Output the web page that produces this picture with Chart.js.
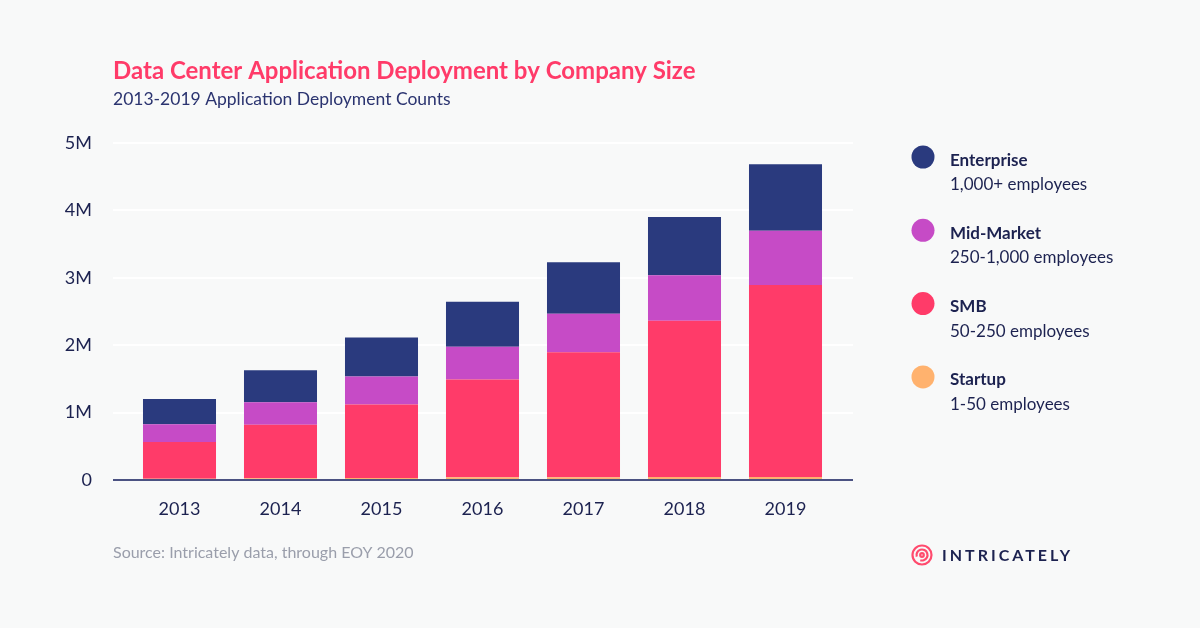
<!DOCTYPE html>
<html>
<head>
<meta charset="utf-8">
<script src="https://cdn.jsdelivr.net/npm/chart.js@4"></script>
<style>
  html, body { margin: 0; padding: 0; background: #f8f9f9; }
  #wrap { width: 1200px; height: 628px; position: relative; }
</style>
</head>
<body>
<div id="wrap"><canvas id="deployChart"></canvas></div>
<script>
// Data
const years = ['2013', '2014', '2015', '2016', '2017', '2018', '2019'];
const startup = [20000, 25000, 30000, 40000, 40000, 45000, 45000];
const smb = [543000, 796000, 1089000, 1451000, 1855000, 2318000, 2849000];
const midMarket = [263000, 332000, 417000, 485000, 572000, 676000, 804000];
const enterprise = [376000, 477000, 580000, 670000, 765000, 863000, 987000];
const yTicks = [0, 1000000, 2000000, 3000000, 4000000, 5000000];

const legendItems = [
    { name: 'Enterprise', sub: '1,000+ employees', color: '#2a3a7e' },
    { name: 'Mid-Market', sub: '250-1,000 employees', color: '#c64bc6' },
    { name: 'SMB', sub: '50-250 employees', color: '#ff3b69' },
    { name: 'Startup', sub: '1-50 employees', color: '#ffb26e' }
];

const FONT = 'Lato, "Noto Sans", sans-serif';
const NAVY = '#1c2250';

// gridlines and baseline a bit wider than the bar area
const gridPlugin = {
    id: 'gridPlugin',
    beforeDatasetsDraw(chart) {
        const { ctx, chartArea, scales } = chart;
        ctx.save();
        ctx.strokeStyle = '#ffffff';
        ctx.lineWidth = 2;
        yTicks.forEach(v => {
            if (v === 0) return;
            const y = Math.round(scales.y.getPixelForValue(v));
            ctx.beginPath();
            ctx.moveTo(chartArea.left - 16, y);
            ctx.lineTo(chartArea.right + 17, y);
            ctx.stroke();
        });
        ctx.restore();
    },
    afterDatasetsDraw(chart) {
        const { ctx, chartArea, scales } = chart;
        const y = scales.y.getPixelForValue(0);
        ctx.save();
        ctx.strokeStyle = '#4b5282';
        ctx.lineWidth = 2;
        ctx.beginPath();
        ctx.moveTo(chartArea.left - 16, y);
        ctx.lineTo(chartArea.right + 17, y);
        ctx.stroke();
        ctx.restore();
    }
};

// titles, legend, footer, logo
const decorPlugin = {
    id: 'decorPlugin',
    afterDraw(chart) {
        const ctx = chart.ctx;
        ctx.save();
        ctx.textBaseline = 'alphabetic';
        ctx.textAlign = 'left';

        ctx.fillStyle = '#ff3b69';
        ctx.font = 'bold 24px ' + FONT;
        ctx.fillText('Data Center Application Deployment by Company Size', 113, 79);

        ctx.fillStyle = '#2b3470';
        ctx.font = '17.5px ' + FONT;
        ctx.fillText('2013-2019 Application Deployment Counts', 113, 105);

        legendItems.forEach((item, i) => {
            const cy = 157 + i * 73.3;
            ctx.fillStyle = item.color;
            ctx.beginPath();
            ctx.arc(923, cy, 11.5, 0, Math.PI * 2);
            ctx.fill();
            ctx.fillStyle = NAVY;
            ctx.font = 'bold 17px ' + FONT;
            ctx.fillText(item.name, 950, cy + 8.5);
            ctx.font = '17px ' + FONT;
            ctx.fillText(item.sub, 950, cy + 33);
        });

        ctx.fillStyle = '#9a9eab';
        ctx.font = '16px ' + FONT;
        ctx.fillText('Source: Intricately data, through EOY 2020', 113, 558);

        // logo mark
        ctx.strokeStyle = '#ff4b6e';
        ctx.lineWidth = 2.2;
        ctx.beginPath();
        ctx.arc(922, 555, 9.5, 0, Math.PI * 2);
        ctx.stroke();
        ctx.beginPath();
        ctx.arc(922, 555, 5.5, Math.PI * 0.9, Math.PI * 2.6);
        ctx.stroke();
        ctx.beginPath();
        ctx.arc(922, 555, 1.8, 0, Math.PI * 2);
        ctx.stroke();

        ctx.fillStyle = NAVY;
        ctx.font = 'bold 16px ' + FONT;
        ctx.letterSpacing = '3px';
        ctx.fillText('INTRICATELY', 942, 561);
        ctx.restore();
    }
};

const deployChart = new Chart(document.getElementById('deployChart'), {
    type: 'bar',
    data: {
        labels: years,
        datasets: [
            { label: 'Startup', data: startup, backgroundColor: '#ffb26e' },
            { label: 'SMB', data: smb, backgroundColor: '#ff3b69' },
            { label: 'Mid-Market', data: midMarket, backgroundColor: '#c64bc6' },
            { label: 'Enterprise', data: enterprise, backgroundColor: '#2a3a7e' }
        ]
    },
    options: {
        responsive: true,
        maintainAspectRatio: false,
        animation: false,
        devicePixelRatio: 1,
        layout: { padding: { top: 143, right: 364, bottom: 98, left: 0 } },
        datasets: {
            bar: { categoryPercentage: 1, barPercentage: 0.723, borderWidth: 0 }
        },
        plugins: {
            legend: { display: false },
            tooltip: { enabled: false }
        },
        scales: {
            x: {
                stacked: true,
                grid: { display: false, drawTicks: false },
                border: { display: false },
                ticks: { color: NAVY, font: { family: FONT, size: 18 }, padding: 18 },
                afterFit(scale) { scale.height = 50; }
            },
            y: {
                stacked: true,
                min: 0,
                max: 5000000,
                afterBuildTicks(scale) { scale.ticks = yTicks.map(v => ({ value: v })); },
                grid: { display: false, drawTicks: false },
                border: { display: false },
                ticks: {
                    color: NAVY,
                    font: { family: FONT, size: 18 },
                    padding: 37,
                    callback: v => v === 0 ? '0' : (v / 1000000) + 'M'
                },
                afterFit(scale) { scale.width = 129; }
            }
        }
    },
    plugins: [gridPlugin, decorPlugin]
});
</script>
</body>
</html>
